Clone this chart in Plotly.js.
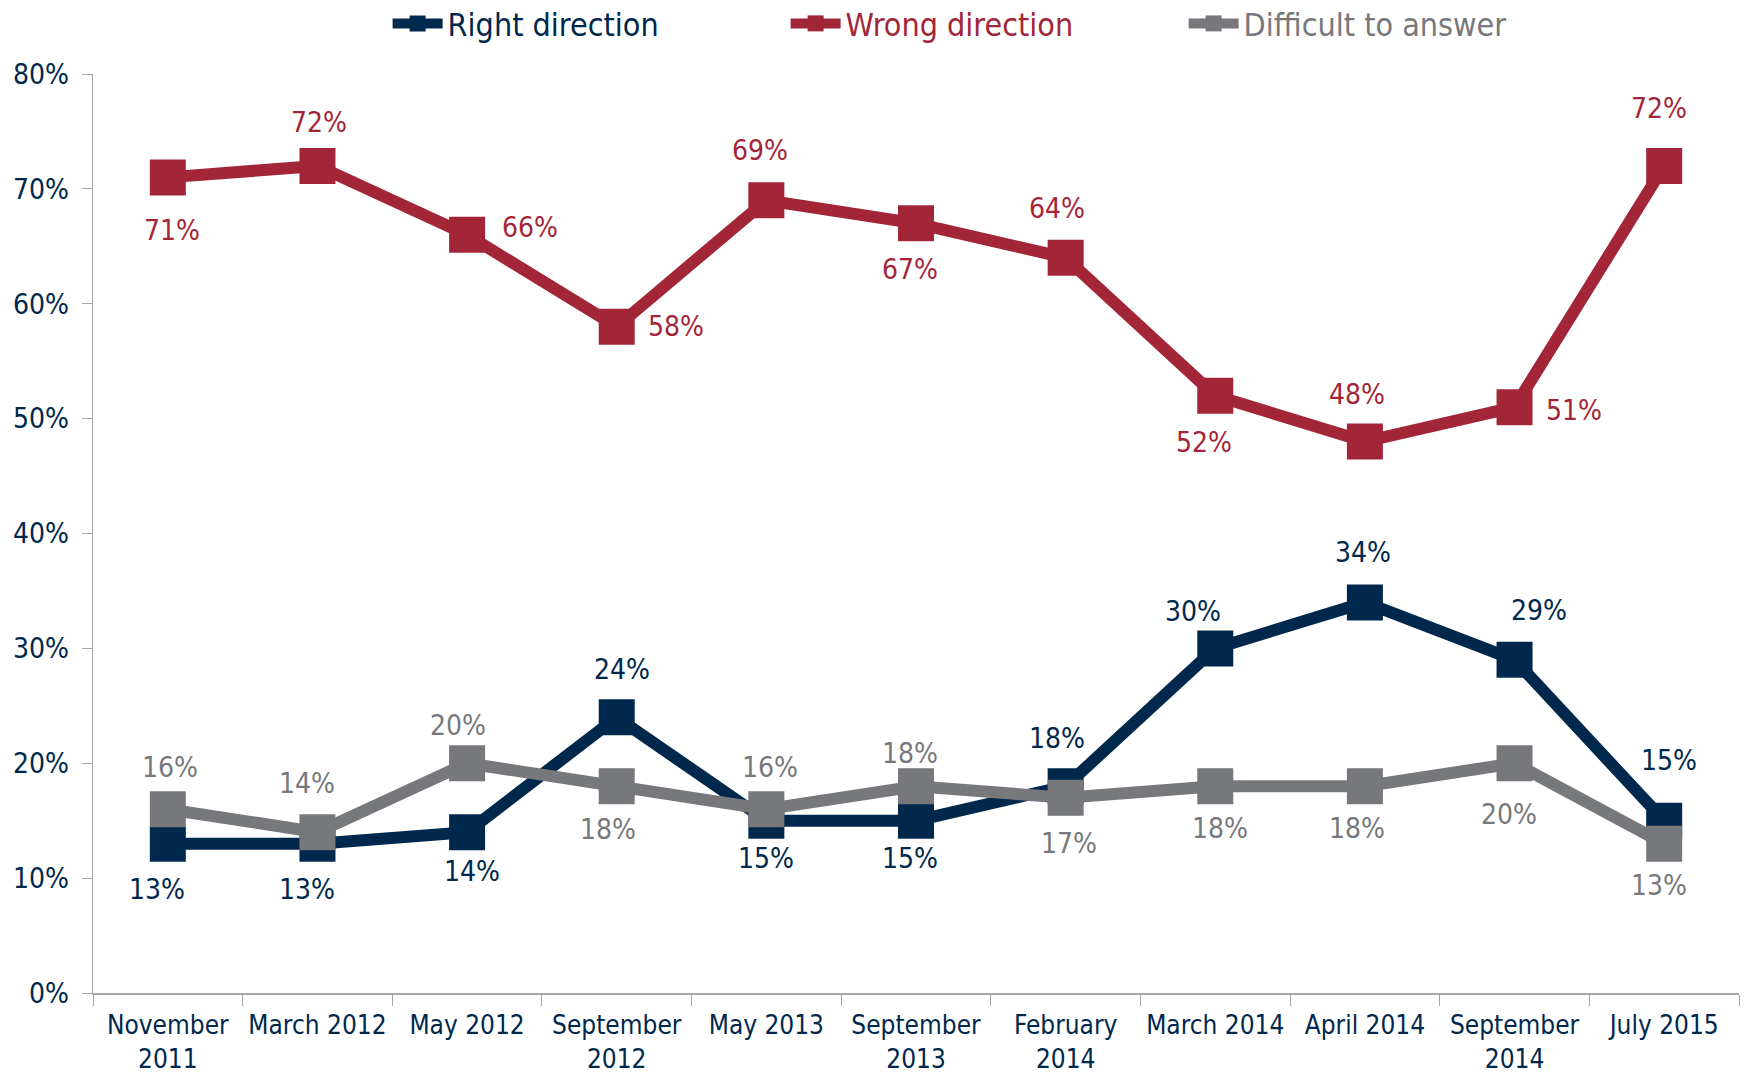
<!DOCTYPE html>
<html><head><meta charset="utf-8">
<script src="https://cdn.plot.ly/plotly-3.0.1.min.js"></script>
<style>html,body{margin:0;padding:0;background:#fff}#chart{width:1746px;height:1072px}</style>
</head><body><div id="chart"></div>
<script>
const categories = ["November<br>2011","March 2012","May 2012","September<br>2012","May 2013","September<br>2013","February<br>2014","March 2014","April 2014","September<br>2014","July 2015"];
const rightDirection = [13,13,14,24,15,15,18,30,34,29,15];
const wrongDirection = [71,72,66,58,69,67,64,52,48,51,72];
const difficult = [16,14,20,18,16,18,17,18,18,20,13];

// data-label offsets from each marker, in pixels (dx right, dy down)
const rightLabelDx = [-11,-10,5,5,0,-6,-9,-22,-2,24,5];
const rightLabelDy = [46,46,39,-48,38,38,-48,-37,-50,-49,-60];
const wrongLabelDx = [4,2,63,59,-6,-6,-9,-11,-8,59,-5];
const wrongLabelDy = [53,-43,-7,0,-50,46,-49,47,-47,3,-57];
const diffLabelDx = [2,-10,-9,-9,4,-6,3,5,-8,-6,-5];
const diffLabelDy = [-42,-49,-38,43,-42,-33,46,42,42,51,42];

const NAVY = "#00284D", RED = "#A32638", GRAY = "#77787B";
const FONT = "DejaVu Sans Condensed, DejaVu Sans, sans-serif";

function tr(name, vals, color){
  return {type:"scatter", mode:"lines+markers", name:name, x:categories, y:vals,
    line:{color:color, width:12}, marker:{symbol:"square", size:36, color:color},
    cliponaxis:false, hoverinfo:"skip"};
}
function anns(vals, dx, dy, color){
  return vals.map((v,i)=>({x:categories[i], y:v, xref:"x", yref:"y", text:v+"%", showarrow:false,
      font:{family:FONT, size:28, color:color},
      xanchor:"center", yanchor:"middle", xshift:dx[i], yshift:-dy[i]}));
}
const data = [tr("Right direction", rightDirection, NAVY), tr("Wrong direction", wrongDirection, RED), tr("Difficult to answer", difficult, GRAY)];
const layout = {
  width:1746, height:1072, paper_bgcolor:"#fff", plot_bgcolor:"#fff",
  margin:{l:93, r:7, t:74, b:79},
  font:{family:FONT, color:NAVY},
  showlegend:true,
  legend:{orientation:"h", xref:"container", yref:"container", x:0.222, y:0.978, xanchor:"left", yanchor:"middle",
    entrywidth:333, entrywidthmode:"pixels", itemwidth:50,
    font:{family:FONT, size:32, color:NAVY}, bgcolor:"rgba(0,0,0,0)"},
  xaxis:{type:"category", range:[-0.5,10.5], tickson:"boundaries", ticks:"outside", ticklen:11, tickcolor:"#A6A6A6",
    showline:true, linecolor:"#A6A6A6", linewidth:1.5, showgrid:false, zeroline:false, fixedrange:true,
    tickangle:0, ticklabelstandoff:8,
    tickfont:{family:FONT, size:26, color:NAVY}},
  yaxis:{range:[0,80], dtick:10, ticksuffix:"%", ticks:"outside", ticklen:10, tickcolor:"#A6A6A6",
    showline:true, linecolor:"#A6A6A6", linewidth:1.5, showgrid:false, zeroline:false, fixedrange:true,
    ticklabelstandoff:7,
    tickfont:{family:FONT, size:28, color:NAVY}},
  annotations:[].concat(anns(rightDirection, rightLabelDx, rightLabelDy, NAVY), anns(wrongDirection, wrongLabelDx, wrongLabelDy, RED), anns(difficult, diffLabelDx, diffLabelDy, GRAY))
};
Plotly.newPlot("chart", data, layout, {displayModeBar:false, staticPlot:true}).then(()=>{
  const colors=[NAVY,RED,GRAY];
  document.querySelectorAll(".legend .traces .legendtext").forEach((t,i)=>{t.style.fill=colors[i];});
});
</script></body></html>
